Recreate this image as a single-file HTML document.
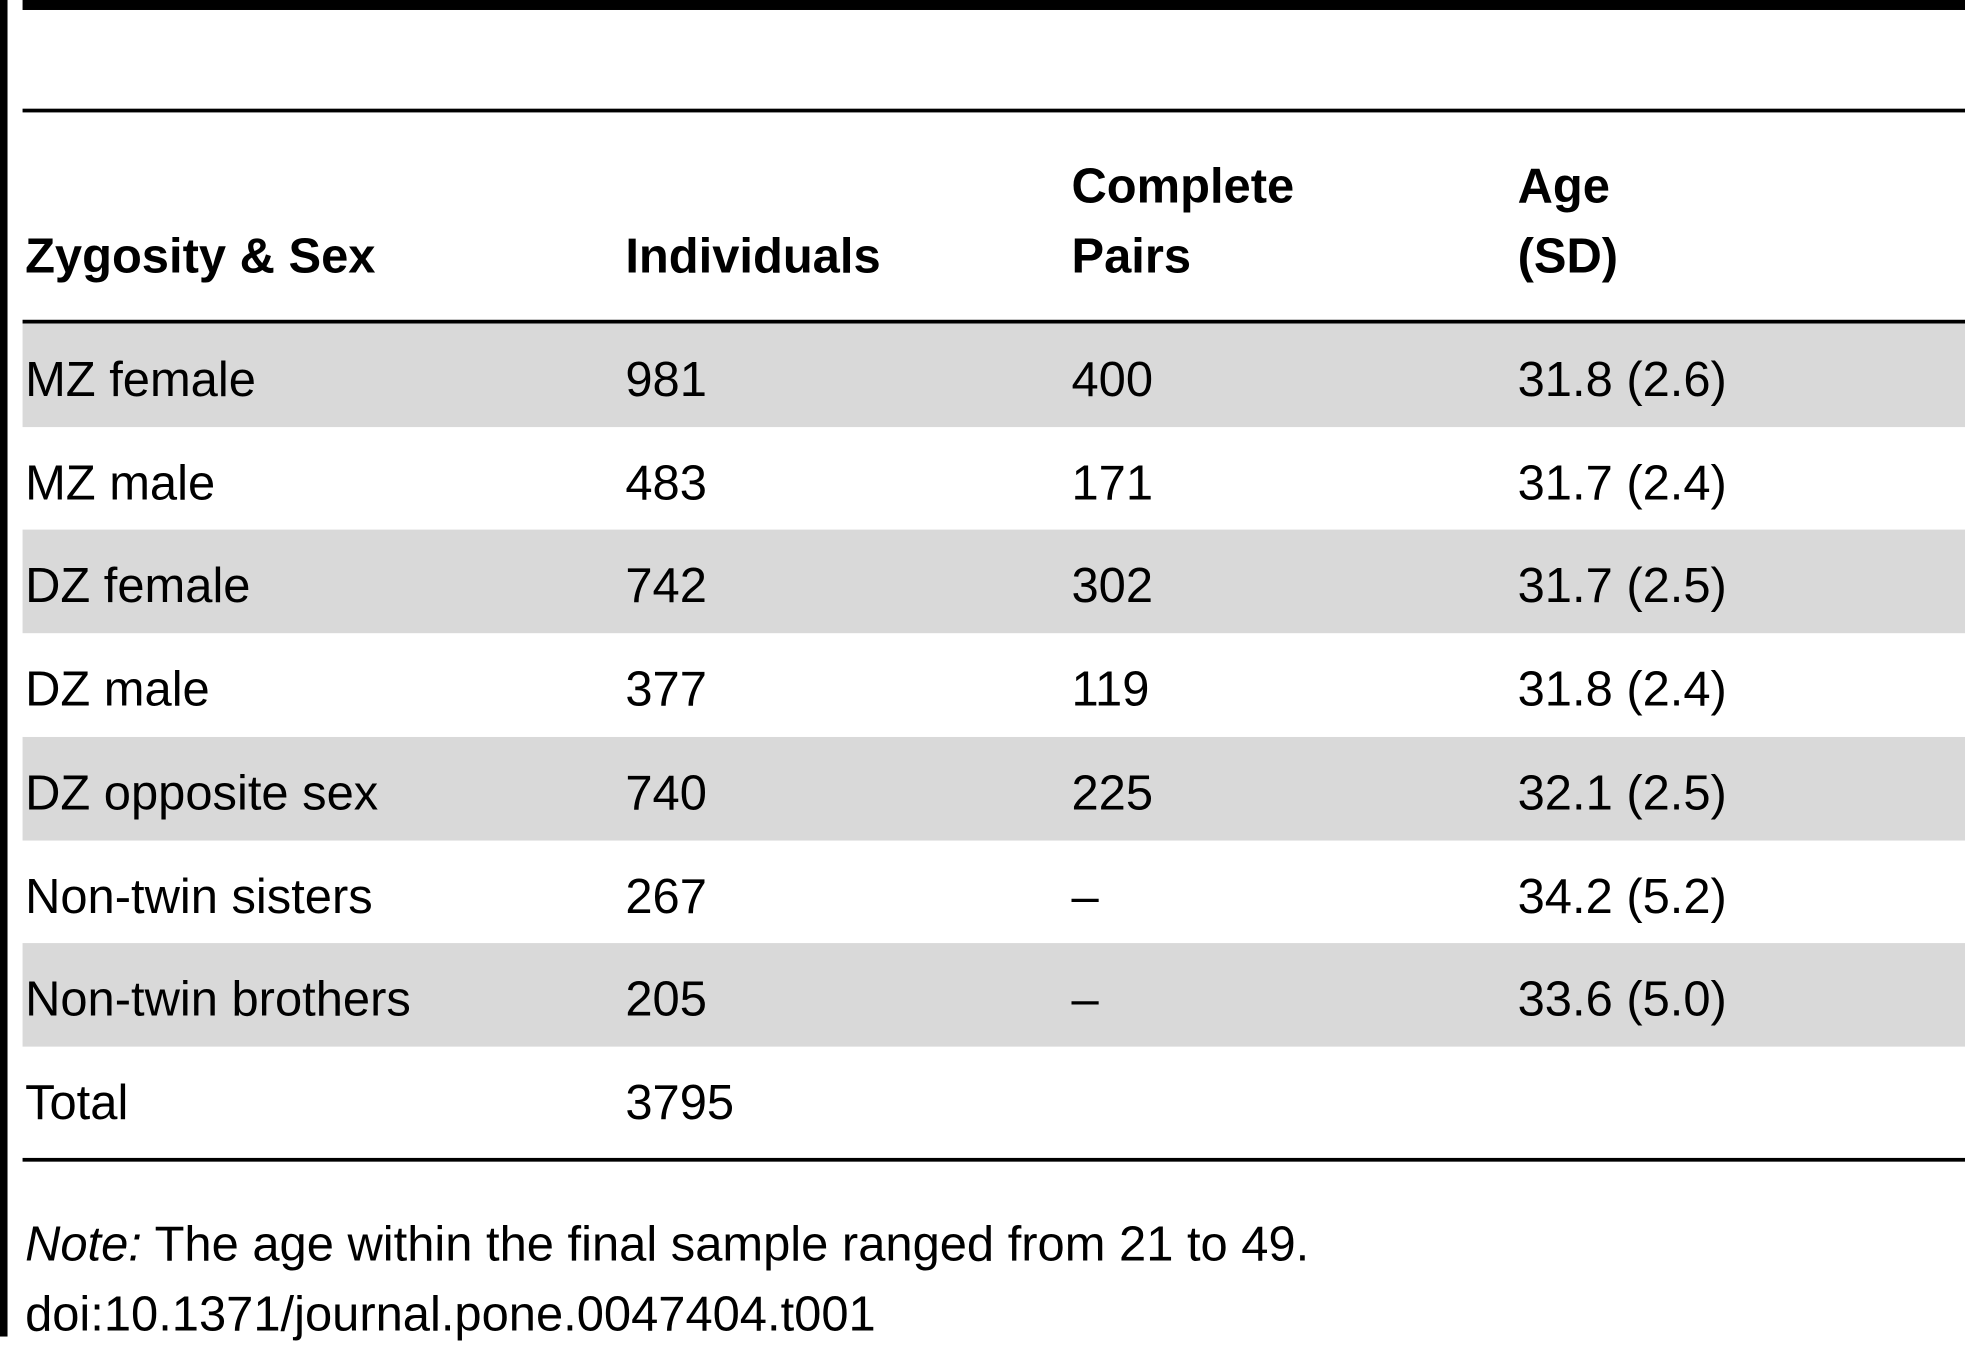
<!DOCTYPE html>
<html><head><meta charset="utf-8"><style>
html,body{margin:0;padding:0;background:#fff;width:1965px;height:1349px;overflow:hidden}
#wrap{position:absolute;left:0;top:0;width:1568px;height:1080px;transform-origin:0 0;transform:scale(1.2532,1.2491);font-family:"Liberation Sans",sans-serif;color:#000}
.abs{position:absolute}
.t{position:absolute;font-size:39px;white-space:nowrap;line-height:1}
.b{font-weight:bold}
</style></head><body>
<div id="wrap">
<div class="abs" style="left:0;top:0;width:6px;height:1070px;background:#000"></div>
<div class="abs" style="left:18px;top:0;width:1550px;height:8px;background:#000"></div>
<div class="abs" style="left:18px;top:87px;width:1550px;height:3px;background:#000"></div>
<div class="t b" style="left:855px;top:130px">Complete</div>
<div class="t b" style="left:1211px;top:130px">Age</div>
<div class="t b" style="left:20px;top:186px">Zygosity &amp; Sex</div>
<div class="t b" style="left:499px;top:186px">Individuals</div>
<div class="t b" style="left:855px;top:186px">Pairs</div>
<div class="t b" style="left:1211px;top:186px">(SD)</div>
<div class="abs" style="left:18px;top:256px;width:1550px;height:3px;background:#000"></div>
<div id="rows"></div>
<div class="abs" style="left:18px;top:927px;width:1550px;height:3px;background:#000"></div>
<div class="t" style="left:20px;top:977px"><i>Note:</i> The age within the final sample ranged from 21 to 49.</div>
<div class="t" style="left:20px;top:1033px">doi:10.1371/journal.pone.0047404.t001</div>
</div>
<script>
const groups=["MZ female","MZ male","DZ female","DZ male","DZ opposite sex","Non-twin sisters","Non-twin brothers","Total"];
const individuals=["981","483","742","377","740","267","205","3795"];
const pairs=["400","171","302","119","225","–","–",""];
const ages=["31.8 (2.6)","31.7 (2.4)","31.7 (2.5)","31.8 (2.4)","32.1 (2.5)","34.2 (5.2)","33.6 (5.0)",""];
const rowsEl=document.getElementById('rows');
const cols=[20,499,855,1211];
for(let i=0;i<groups.length;i++){
  const top=259+i*82.7;
  const r=document.createElement('div');
  
  
  r.className='abs';
  r.style.cssText='left:18px;top:'+top+'px;width:1550px;height:83px;background:'+(i%2===0&&i<7?'#d9d9d9':'#fff');
  rowsEl.appendChild(r);
  const vals=[groups[i],individuals[i],pairs[i],ages[i]];
  for(let c=0;c<4;c++){
    if(!vals[c])continue;
    const t=document.createElement('div');
    
    
    t.className='t';
    t.style.left=cols[c]+'px';
    t.style.top=(top+26)+'px';
    t.textContent=vals[c];
    rowsEl.appendChild(t);
  }
}
</script>
</body></html>
